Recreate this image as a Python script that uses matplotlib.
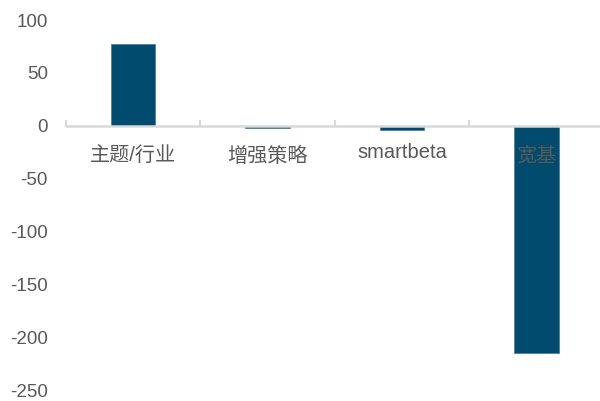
import matplotlib.pyplot as plt
import numpy as np

plt.rcParams['font.family'] = ['Liberation Sans', 'Noto Sans CJK SC', 'DejaVu Sans']

categories = ["主题/行业", "增强策略", "smartbeta", "宽基"]
values = [77, -2.5, -4, -215]
y_ticks = [100, 50, 0, -50, -100, -150, -200, -250]

BAR_COLOR = "#004b6e"
TEXT_COLOR = "#595959"
AXIS_COLOR = "#d9d9d9"

fig = plt.figure(figsize=(6.0, 4.01), dpi=100)
ax = fig.add_axes([0.11, 0.0274, 0.896, 0.9226])

x = np.arange(len(categories))
ax.bar(x, values, width=0.33, color=BAR_COLOR, edgecolor="#4f7f99",
       linewidth=0.6, zorder=2)

ax.set_xlim(-0.5, len(categories) - 0.5)
ax.set_ylim(-250, 100)
ax.set_yticks(y_ticks)
ax.set_yticklabels([str(v) for v in y_ticks])
ax.tick_params(axis="y", length=0, pad=13, labelsize=13.5, labelcolor=TEXT_COLOR)
ax.set_xticks([])

for side in ("top", "right", "left", "bottom"):
    ax.spines[side].set_visible(False)

# zero line with small upward ticks at category boundaries
ax.axhline(0, color=AXIS_COLOR, linewidth=1.8, zorder=3)
for b in np.arange(-0.5, len(categories) + 0.5, 1.0):
    ax.plot([b, b], [0, 4.5], color=AXIS_COLOR, linewidth=1.5, zorder=3,
            clip_on=False)

# CJK glyphs sit a little lower than the latin label in the original
for xi, label in zip(x, categories):
    y_lab = -16 if label.isascii() else -20
    ax.text(xi, y_lab, label, ha="center", va="top", fontsize=14.5,
            color=TEXT_COLOR, zorder=4)

fig.savefig("out.png", dpi=100)
